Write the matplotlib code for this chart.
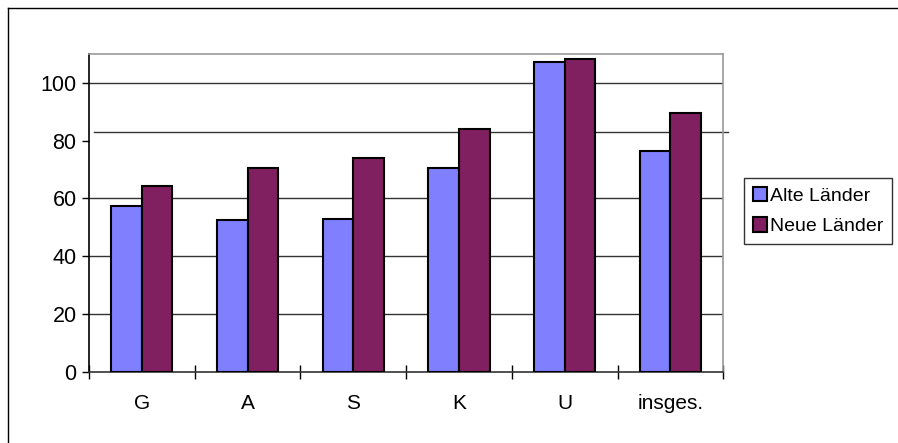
import matplotlib
matplotlib.use("Agg")
from matplotlib import pyplot as plt
from matplotlib.lines import Line2D
import numpy as np

plt.rcParams['font.family'] = ['Liberation Sans', 'DejaVu Sans']

# Daten
kategorien = ["G", "A", "S", "K", "U", "insges."]
alte_laender = [57.5, 52.5, 52.9, 70.7, 107.1, 76.3]
neue_laender = [64.2, 70.4, 74.1, 84.0, 108.2, 89.7]
y_ticks = [0, 20, 40, 60, 80, 100]
gitter = [20, 40, 60, 100]
extra_linie = 82.9

fig = plt.figure(figsize=(8.98, 4.43), dpi=100)
ax = fig.add_axes([89 / 898, 1 - 371.7 / 443, (723.3 - 89) / 898, (371.7 - 54) / 443])

# Rahmen um das ganze Diagramm (rechts und unten abgeschnitten)
fig.lines.append(Line2D([8 / 898, 1.0], [1 - 8 / 443, 1 - 8 / 443],
                        transform=fig.transFigure, color="black", linewidth=1.0))
fig.lines.append(Line2D([8 / 898, 8 / 898], [0.0, 1 - 8 / 443],
                        transform=fig.transFigure, color="black", linewidth=1.0))

x = np.arange(len(kategorien))
w = 0.289
ax.bar(x - w / 2, alte_laender, w, color="#8080FF", edgecolor="black",
       linewidth=1.5, label="Alte Länder", zorder=3)
ax.bar(x + w / 2, neue_laender, w, color="#802060", edgecolor="black",
       linewidth=1.5, label="Neue Länder", zorder=3)

for g in gitter:
    ax.axhline(g, color="#333333", linewidth=1.0, zorder=1)
# merkwuerdige Linie, die ueber den Rand hinausgeht
ax.axhline(extra_linie, xmin=0.008, xmax=1.008, color="#333333",
           linewidth=1.0, zorder=1, clip_on=False)

ax.set_xlim(-0.5, len(kategorien) - 0.5)
ax.set_ylim(0, 110)

ax.set_yticks(y_ticks)
ax.tick_params(axis="y", direction="out", length=5, width=1, pad=4,
               labelsize=15.5)

ax.set_xticks(np.arange(len(kategorien) + 1) - 0.5)
ax.set_xticklabels([])
ax.tick_params(axis="x", which="major", direction="inout", length=10, width=1)
ax.set_xticks(x, minor=True)
ax.set_xticklabels(kategorien, minor=True)
ax.tick_params(axis="x", which="minor", length=0, pad=16, labelsize=15)

ax.spines["left"].set_color("black")
ax.spines["bottom"].set_color("#333333")
ax.spines["top"].set_color("#999999")
ax.spines["right"].set_color("#999999")
for s in ax.spines.values():
    s.set_linewidth(1.2)

leg = ax.legend(loc="upper left", bbox_to_anchor=(744 / 898, 1 - 178 / 443),
                bbox_transform=fig.transFigure, fontsize=14, frameon=True,
                fancybox=False, handlelength=0.75, handleheight=0.75,
                handletextpad=0.15, borderpad=0.45, labelspacing=0.65,
                borderaxespad=0)
leg.get_frame().set_edgecolor("black")
leg.get_frame().set_linewidth(1.0)

plt.savefig("out.png", dpi=100)
